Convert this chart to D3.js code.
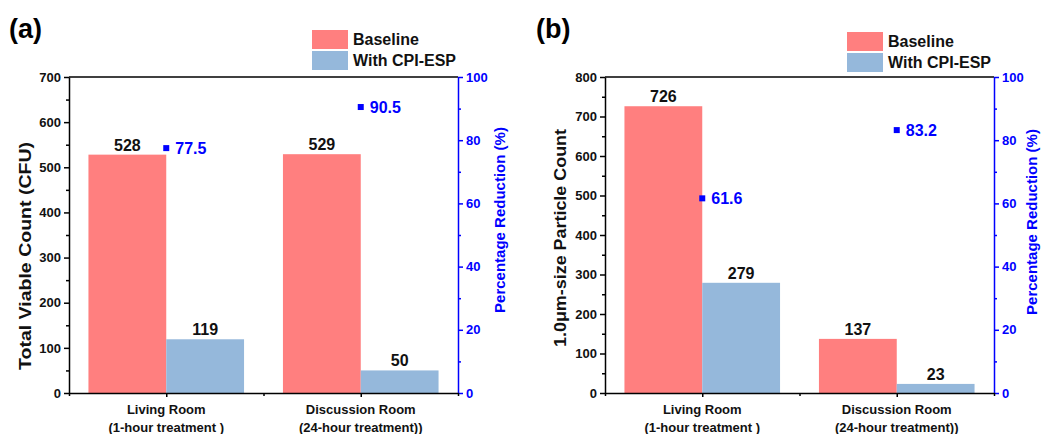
<!DOCTYPE html>
<html>
<head>
<meta charset="utf-8">
<script src="https://cdn.jsdelivr.net/npm/d3@7"></script>
<style>
  html, body { margin: 0; padding: 0; background: #fff; }
  svg { display: block; font-family: "Liberation Sans", Arial, Helvetica, sans-serif; }
</style>
</head>
<body>
<svg id="chart" width="1041" height="434"></svg>
<script>
// ---------- data ----------
const categoryLine1 = ["Living Room", "Discussion Room"];
const categoryLine2 = ["(1-hour treatment )", "(24-hour treatment))"];
const seriesNames = ["Baseline", "With CPI-ESP"];

const cfuBaseline = [528, 529];
const cfuWithEsp = [119, 50];
const cfuReduction = [77.5, 90.5];

const pmBaseline = [726, 137];
const pmWithEsp = [279, 23];
const pmReduction = [61.6, 83.2];

const cfuTicks = [0, 100, 200, 300, 400, 500, 600, 700];
const pmTicks = [0, 100, 200, 300, 400, 500, 600, 700, 800];
const pctTicks = [0, 20, 40, 60, 80, 100];

// ---------- styles ----------
const RED = "#FF7F7F";
const BLUE_BAR = "#95B8DB";
const BLUE = "#0000FF";
const FONT = "Liberation Sans, Arial, sans-serif";

const svg = d3.select("#chart");

function drawPanel(cfg) {
  const g = svg.append("g");
  const x = d3.scaleLinear().domain([0.5, 2.5]).range([cfg.left, cfg.right]);
  const y = d3.scaleLinear().domain([0, cfg.ymax]).range([cfg.bottom, cfg.top]);
  const yr = d3.scaleLinear().domain([0, 100]).range([cfg.bottom, cfg.top]);
  const barW = 0.4;

  // bars
  const rows = cfg.base.map((v, i) => ({ i, base: v, esp: cfg.esp[i], red: cfg.red[i] }));
  g.selectAll("rect.base").data(rows).join("rect")
    .attr("x", d => x(d.i + 1 - barW))
    .attr("width", d => x(d.i + 1) - x(d.i + 1 - barW))
    .attr("y", d => y(d.base))
    .attr("height", d => y(0) - y(d.base))
    .attr("fill", RED);
  g.selectAll("rect.esp").data(rows).join("rect")
    .attr("x", d => x(d.i + 1))
    .attr("width", d => x(d.i + 1 + barW) - x(d.i + 1))
    .attr("y", d => y(d.esp))
    .attr("height", d => y(0) - y(d.esp))
    .attr("fill", BLUE_BAR);

  // bar value labels
  g.selectAll("text.bl").data(rows).join("text")
    .attr("x", d => x(d.i + 1 - barW / 2))
    .attr("y", d => y(d.base) - 4)
    .attr("text-anchor", "middle")
    .attr("font-size", 16).attr("font-weight", "bold").attr("fill", "#111")
    .text(d => d.base);
  g.selectAll("text.el").data(rows).join("text")
    .attr("x", d => x(d.i + 1 + barW / 2))
    .attr("y", d => y(d.esp) - 4)
    .attr("text-anchor", "middle")
    .attr("font-size", 16).attr("font-weight", "bold").attr("fill", "#111")
    .text(d => d.esp);

  // reduction markers
  g.selectAll("rect.mk").data(rows).join("rect")
    .attr("x", d => x(d.i + 1) - 3)
    .attr("y", d => yr(d.red) - 3)
    .attr("width", 6).attr("height", 6)
    .attr("fill", BLUE);
  g.selectAll("text.rl").data(rows).join("text")
    .attr("x", d => x(d.i + 1) + 9)
    .attr("y", d => yr(d.red) + 6)
    .attr("font-size", 16).attr("font-weight", "bold").attr("fill", BLUE)
    .text(d => d.red.toFixed(1));

  // top frame
  g.append("line")
    .attr("x1", cfg.left).attr("x2", cfg.right)
    .attr("y1", cfg.top).attr("y2", cfg.top)
    .attr("stroke", "#000").attr("stroke-width", 1.5);

  // left axis
  const minorL = d3.range(50, cfg.ymax, 100);
  g.append("g").attr("transform", `translate(${cfg.left},0)`)
    .call(d3.axisLeft(y).tickValues(minorL).tickSize(3).tickFormat(""))
    .call(a => a.select(".domain").remove())
    .call(a => a.selectAll("line").attr("stroke-width", 1.5));
  g.append("g").attr("transform", `translate(${cfg.left},0)`)
    .call(d3.axisLeft(y).tickValues(cfg.ticks).tickSize(5).tickPadding(3).tickSizeOuter(0))
    .call(a => a.select(".domain").attr("stroke-width", 1.5))
    .call(a => a.selectAll("line").attr("stroke-width", 1.5))
    .call(a => a.selectAll("text").attr("font-size", 13).attr("font-weight", "bold")
      .attr("fill", "#111").attr("font-family", FONT));

  // right axis
  const minorR = d3.range(10, 100, 20);
  g.append("g").attr("transform", `translate(${cfg.right},0)`)
    .call(d3.axisRight(yr).tickValues(minorR).tickSize(3).tickFormat(""))
    .call(a => a.select(".domain").remove())
    .call(a => a.selectAll("line").attr("stroke", BLUE).attr("stroke-width", 1.5));
  g.append("g").attr("transform", `translate(${cfg.right},0)`)
    .call(d3.axisRight(yr).tickValues(pctTicks).tickSize(5).tickPadding(3).tickSizeOuter(0))
    .call(a => a.select(".domain").attr("stroke", BLUE).attr("stroke-width", 1.5))
    .call(a => a.selectAll("line").attr("stroke", BLUE).attr("stroke-width", 1.5))
    .call(a => a.selectAll("text").attr("font-size", 13).attr("font-weight", "bold")
      .attr("fill", BLUE).attr("font-family", FONT));

  // bottom axis
  g.append("g").attr("transform", `translate(0,${cfg.bottom})`)
    .call(d3.axisBottom(x).tickValues([0.5, 1.5, 2.5]).tickSize(3).tickFormat(""))
    .call(a => a.select(".domain").remove())
    .call(a => a.selectAll("line").attr("stroke-width", 1.5));
  g.append("g").attr("transform", `translate(0,${cfg.bottom})`)
    .call(d3.axisBottom(x).tickValues([1, 2]).tickSize(4).tickFormat("").tickSizeOuter(0))
    .call(a => a.select(".domain").attr("stroke-width", 1.5))
    .call(a => a.selectAll("line").attr("stroke-width", 1.5));

  // category labels
  categoryLine1.forEach((t, i) => {
    g.append("text").attr("x", x(i + 1)).attr("y", cfg.bottom + 21)
      .attr("text-anchor", "middle").attr("font-size", 13).attr("font-weight", "bold")
      .attr("fill", "#111").text(t);
    g.append("text").attr("x", x(i + 1)).attr("y", cfg.bottom + 39)
      .attr("text-anchor", "middle").attr("font-size", 13).attr("font-weight", "bold")
      .attr("fill", "#111").text(categoryLine2[i]);
  });

  // axis titles
  g.append("text")
    .attr("transform", `translate(${cfg.ylabX},${cfg.ylabY}) rotate(-90)`)
    .attr("text-anchor", "middle").attr("font-size", 16).attr("font-weight", "bold")
    .attr("textLength", cfg.ylabLen).attr("lengthAdjust", "spacingAndGlyphs")
    .attr("fill", "#111").text(cfg.ylabel);
  g.append("text")
    .attr("transform", `translate(${cfg.right + cfg.rlabDx},${cfg.rlabY}) rotate(-90)`)
    .attr("text-anchor", "middle").attr("font-size", 15).attr("font-weight", "bold")
    .attr("fill", BLUE).text("Percentage Reduction (%)");

  // legend
  const colors = [RED, BLUE_BAR];
  seriesNames.forEach((s, i) => {
    g.append("rect").attr("x", cfg.legX).attr("y", cfg.legY + i * 21)
      .attr("width", 36).attr("height", 19).attr("fill", colors[i]);
    g.append("text").attr("x", cfg.legX + 41).attr("y", cfg.legY + i * 21 + 15)
      .attr("font-size", 16).attr("font-weight", "bold").attr("fill", "#111").text(s);
  });

  // panel label
  g.append("text").attr("x", cfg.tagX).attr("y", 38)
    .attr("font-size", 27).attr("font-weight", "bold").attr("fill", "#000").text(cfg.tag);
}

drawPanel({
  left: 69, right: 458, top: 77, bottom: 393, ymax: 700,
  base: cfuBaseline, esp: cfuWithEsp, red: cfuReduction, ticks: cfuTicks,
  ylabel: "Total Viable Count (CFU)", ylabX: 31, ylabY: 256, ylabLen: 228,
  rlabDx: 47, rlabY: 220,
  legX: 312, legY: 30, tag: "(a)", tagX: 9
});
drawPanel({
  left: 605, right: 994, top: 77, bottom: 393, ymax: 800,
  base: pmBaseline, esp: pmWithEsp, red: pmReduction, ticks: pmTicks,
  ylabel: "1.0\u03BCm-size Particle Count", ylabX: 566, ylabY: 238, ylabLen: 218,
  rlabDx: 43, rlabY: 222,
  legX: 847, legY: 32, tag: "(b)", tagX: 536
});
</script>
</body>
</html>
